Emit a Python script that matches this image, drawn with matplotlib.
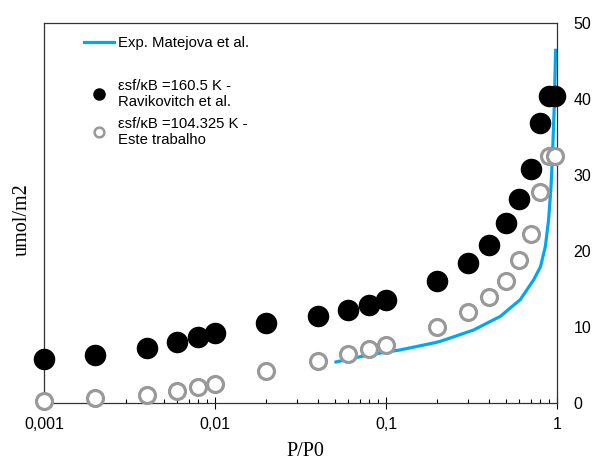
import matplotlib
matplotlib.use("Agg")
import matplotlib.pyplot as plt
from matplotlib.lines import Line2D
from matplotlib.ticker import FixedLocator, FixedFormatter, LogLocator, NullFormatter

# valores
p_pts = [0.001, 0.002, 0.004, 0.006, 0.008, 0.01, 0.02, 0.04, 0.06, 0.08,
         0.1, 0.2, 0.3, 0.4, 0.5, 0.6, 0.7, 0.8, 0.9, 0.98]
rav = [5.8, 6.3, 7.2, 8.0, 8.7, 9.2, 10.5, 11.4, 12.2, 12.9,
       13.5, 16.0, 18.4, 20.8, 23.7, 26.8, 30.8, 36.8, 40.4, 40.4]
este = [0.2, 0.6, 1.1, 1.6, 2.1, 2.5, 4.2, 5.5, 6.5, 7.1,
        7.6, 10.0, 12.0, 14.0, 16.1, 18.8, 22.2, 27.7, 32.5, 32.5]

p_exp = [0.051, 0.078, 0.122, 0.19, 0.207, 0.325, 0.466, 0.61, 0.73, 0.80,
         0.855, 0.893, 0.923, 0.942, 0.964, 0.981]
exp_y = [5.4, 6.3, 7.0, 7.9, 8.1, 9.6, 11.4, 13.6, 16.2, 17.9,
         20.6, 24.1, 28.5, 32.9, 39.0, 46.4]

xticks = [0.001, 0.01, 0.1, 1]
xticklabels = ["0,001", "0,01", "0,1", "1"]
yticks = [0, 10, 20, 30, 40, 50]

lbl_exp = "Exp. Matejova et al."
lbl_rav = "\u03b5sf/\u03baB =160.5 K -\nRavikovitch et al."
lbl_este = "\u03b5sf/\u03baB =104.325 K -\nEste trabalho"

blue = "#00A8F0"
gray = "#999999"
W, H = 595, 463

fig = plt.figure(figsize=(W / 100, H / 100), dpi=100)
ax = fig.add_axes([44 / W, 1 - 403 / H, (557 - 44) / W, (403 - 23) / H])

ax.plot(p_exp, exp_y, color=blue, lw=2.3, zorder=2)
ax.plot(p_pts, rav, "o", ms=14.5, color="black", clip_on=False, zorder=4)
ax.plot(p_pts, este, "o", ms=11.5, mfc="white", mec=gray, mew=2.3,
        clip_on=False, zorder=5)

ax.set_xscale("log")
ax.set_xlim(0.001, 1)
ax.set_ylim(0, 50)

ax.xaxis.set_major_locator(FixedLocator(xticks))
ax.xaxis.set_major_formatter(FixedFormatter(xticklabels))
ax.xaxis.set_minor_locator(LogLocator(base=10, subs=range(2, 10)))
ax.xaxis.set_minor_formatter(NullFormatter())
ax.tick_params(axis="x", which="major", direction="inout", length=8,
               width=0.8, pad=6, labelsize=11.5)
ax.tick_params(axis="x", which="minor", direction="in", length=3, width=0.8)

ax.yaxis.tick_right()
ax.set_yticks(yticks)
ax.tick_params(axis="y", length=0, pad=12, labelsize=11.5)

for lab in ax.get_xticklabels() + ax.get_yticklabels():
    lab.set_family("Liberation Sans")

for s in ax.spines.values():
    s.set_color("#333333")
    s.set_linewidth(0.9)

fig.text(305 / W, 1 - 452 / H, "P/P0", family="Liberation Serif",
         fontsize=14.5, ha="center", va="center")
fig.text(22 / W, 1 - 220 / H, "umol/m2", family="Liberation Serif",
         fontsize=14.5, ha="center", va="center", rotation=90)

# legenda em duas partes (ha um espaco maior depois da linha)
h_exp = Line2D([], [], color=blue, lw=2.3)
h_rav = Line2D([], [], ls="", marker="o", ms=8, color="black")
h_este = Line2D([], [], ls="", marker="o", ms=7, mfc="white", mec=gray, mew=1.8)

leg_kw = dict(frameon=False, borderpad=0, borderaxespad=0, handlelength=2.0,
              handletextpad=0.3, loc="center left",
              bbox_transform=fig.transFigure,
              prop={"family": "Liberation Sans", "size": 10.7})
leg1 = ax.legend([h_exp], [lbl_exp], bbox_to_anchor=(84 / W, 1 - 43 / H), **leg_kw)
ax.add_artist(leg1)
ax.legend([h_rav, h_este], [lbl_rav, lbl_este], labelspacing=0.55,
          bbox_to_anchor=(84 / W, 1 - 113 / H), **leg_kw)

fig.savefig("out.png", dpi=100)
